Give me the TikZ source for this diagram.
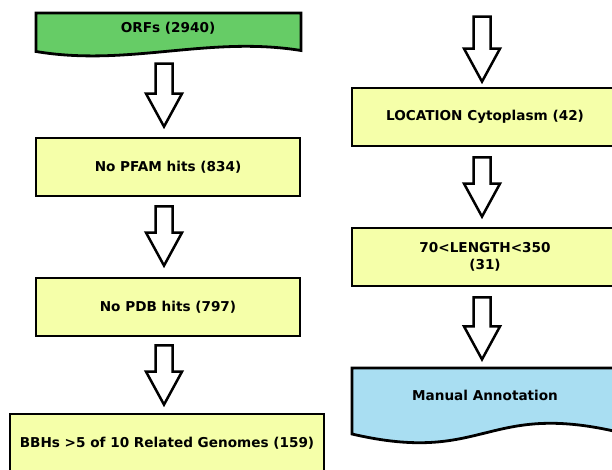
\documentclass[tikz,border=0pt]{standalone}
\usepackage{fontspec}
\setmainfont{DejaVu Sans}
\usetikzlibrary{calc}

\definecolor{orfgreen}{HTML}{66CC66}
\definecolor{boxyellow}{HTML}{F5FFA9}
\definecolor{manualblue}{HTML}{A9DEF2}

\tikzset{
  labelfont/.style={font=\fontsize{13.6}{17}\selectfont\bfseries},
  stepbox/.style={draw=black, line width=2.8pt, fill=boxyellow,
    minimum width=264pt, minimum height=58pt, inner sep=0pt,
    align=center, labelfont},
  wavebox/.style={draw=black, line width=2.8pt, line join=miter},
  lbl/.style={inner sep=0pt, align=center, labelfont},
  blockarr/.style={draw=black, fill=white, line width=2.5pt, line join=miter}
}

% hollow block arrow pointing down, from top centre #1 to tip #2
\newcommand\blockdown[2]{%
  \draw[blockarr] let \p1=(#1), \p2=(#2) in
    (\x1-8.5pt,\y1) -- (\x1+8.5pt,\y1) -- (\x1+8.5pt,\y2+33pt)
    -- (\x1+18pt,\y2+33pt) -- (\x2,\y2) -- (\x1-18pt,\y2+33pt)
    -- (\x1-8.5pt,\y2+33pt) -- cycle;}

\begin{document}
\begin{tikzpicture}[x=1pt,y=-1pt]
\useasboundingbox (0,0) rectangle (612,470);

% ---- left column ----
\draw[wavebox, fill=orfgreen] (36,51.5) .. controls (128.8,67) and (208,35.5) .. (301,50.5)
  -- (301,13) -- (36,13) -- cycle;
\node[lbl] (orf) at (168,28) {ORFs (2940)};

\node[stepbox] (pfam) at (168,167) {No PFAM hits (834)};
\node[stepbox] (pdb) at (168,307) {No PDB hits (797)};
\node[stepbox, minimum width=314pt] (bbh) at (167,443) {BBHs >5 of 10 Related Genomes (159)};

\coordinate (a1s) at ($(pfam.north)+(-4,-73)$);
\coordinate (a1e) at ($(pfam.north)+(-4,-10)$);
\coordinate (a2s) at ($(pfam.south)+(-4,9)$);
\coordinate (a2e) at ($(pdb.north)+(-4,-11)$);
\coordinate (a3s) at ($(pdb.south)+(-4,8)$);
\coordinate (a3e) at ($(bbh.north)+(-3,-8)$);
\blockdown{a1s}{a1e}
\blockdown{a2s}{a2e}
\blockdown{a3s}{a3e}

% ---- right column ----
\node[stepbox, minimum width=266pt] (loc) at (485,117) {LOCATION Cytoplasm (42)};
\node[stepbox, minimum width=266pt] (len) at (485,257) {70<LENGTH<350\\(31)};
\draw[wavebox, fill=manualblue] (352,434) .. controls (485,465) and (485,401) .. (618,432)
  -- (618,368) -- (352,368) -- cycle;
\node[lbl] (man) at (485,395) {Manual Annotation};

\coordinate (b1s) at ($(loc.north)+(-3,-70)$);
\coordinate (b1e) at ($(loc.north)+(-3,-5)$);
\coordinate (b2s) at ($(loc.south)+(-3,10)$);
\coordinate (b2e) at ($(len.north)+(-3,-10)$);
\coordinate (b3s) at ($(len.south)+(-3,10)$);
\coordinate (b3e) at ($(len.south)+(-3,72)$);
\blockdown{b1s}{b1e}
\blockdown{b2s}{b2e}
\blockdown{b3s}{b3e}
\end{tikzpicture}
\end{document}
